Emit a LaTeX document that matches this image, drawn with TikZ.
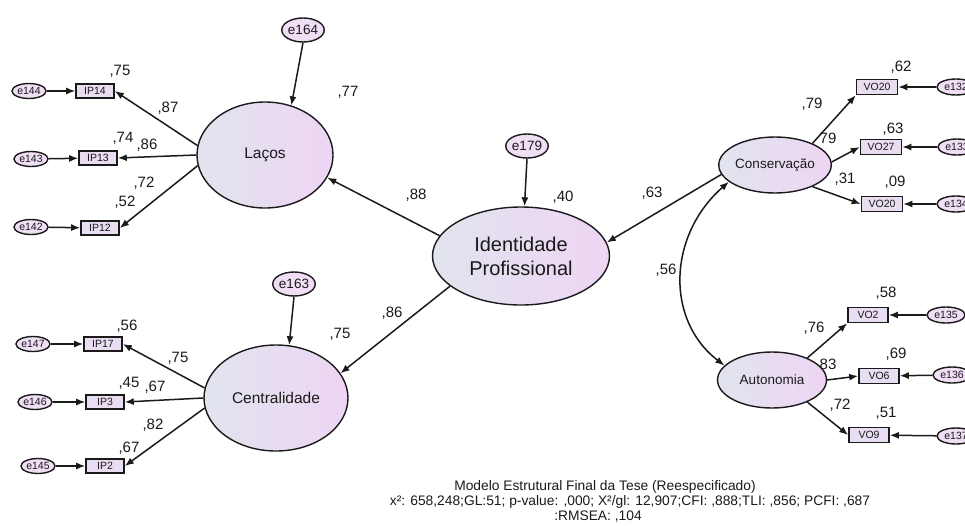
\documentclass[tikz,border=0pt]{standalone}
\usepackage{fontspec}
\setmainfont{Liberation Sans}
\usetikzlibrary{shapes.geometric,arrows.meta}
\definecolor{latL}{HTML}{E1E4EE}
\definecolor{latR}{HTML}{EED5F4}
\definecolor{boxF}{HTML}{E9DDF2}
\definecolor{errF}{HTML}{F0DEF5}
\definecolor{ink}{HTML}{1A1A1A}
\newcommand\fsz[1]{\fontsize{#1}{#1}\selectfont}
\begin{document}
\begin{tikzpicture}[x=1pt,y=-1pt,
  latent/.style={ellipse, draw=ink, line width=1.4pt, left color=latL, right color=latR, inner sep=0pt, text=ink},
  obs/.style={rectangle, draw=ink, line width=1.6pt, fill=boxF, minimum width=38pt, minimum height=14pt, inner sep=0pt, font=\fsz{10.5}, text=ink},
  err/.style={ellipse, draw=ink, line width=1.4pt, fill=errF, minimum width=34pt, minimum height=15pt, inner sep=0pt, font=\fsz{10.5}, text=ink},
  dist/.style={ellipse, draw=ink, line width=1.4pt, fill=errF, minimum width=39pt, minimum height=24pt, inner sep=0pt, font=\fsz{13.5}, text=ink},
  coef/.style={inner sep=0pt, font=\fsz{15}, text=ink},
  arr/.style={-{Latex[length=9pt,width=7pt]}, line width=1.5pt, draw=ink},
  darr/.style={{Latex[length=9pt,width=7pt]}-{Latex[length=9pt,width=7pt]}, line width=1.5pt, draw=ink},
  captext/.style={inner sep=0pt, font=\fsz{13.8}, text=ink}
]
\useasboundingbox (0,0) rectangle (965,525);
\clip (0,0) rectangle (965,525);

% ---------- second-order factor ----------
\node[latent, minimum width=177pt, minimum height=98pt, align=center,
      font=\fontsize{20}{24}\selectfont] (Ident) at (521,256) {Identidade\\Profissional};
\node[dist] (e179) at (527,146) {e179};

% ---------- Laços ----------
\node[latent, minimum width=136pt, minimum height=106pt, font=\fsz{15.5}] (Lacos) at (265,155) {Laços};
\node[dist] (e164) at (303,30) {e164};
\node[obs] (IP14) at (95,91) {IP14};
\node[obs] (IP13) at (98,158) {IP13};
\node[obs] (IP12) at (100,228) {IP12};
\node[err] (e144) at (29,91) {e144};
\node[err] (e143) at (31,159) {e143};
\node[err] (e142) at (31,227) {e142};

% ---------- Centralidade ----------
\node[latent, minimum width=144pt, minimum height=106pt, font=\fsz{15.5}] (Cent) at (276,398) {Centralidade};
\node[dist] (e163) at (294,284) {e163};
\node[obs] (IP17) at (103,344) {IP17};
\node[obs] (IP3) at (105,402) {IP3};
\node[obs] (IP2) at (105,466) {IP2};
\node[err] (e147) at (33,344) {e147};
\node[err] (e146) at (35,402) {e146};
\node[err] (e145) at (38,466) {e145};

% ---------- Conservação ----------
\node[latent, minimum width=106pt, minimum height=56pt, font=\fsz{13.5}] (Cons) at (775,165) {Conservação};
\node[obs, minimum width=41pt, minimum height=15pt] (VOa) at (877,87) {VO20};
\node[obs, minimum width=41pt, minimum height=15pt] (VOb) at (881,147) {VO27};
\node[obs, minimum width=41pt, minimum height=15pt] (VOc) at (882,204) {VO20};
\node[err, minimum width=38pt, minimum height=16pt] (e132) at (956,87) {e132};
\node[err, minimum width=38pt, minimum height=16pt] (e133) at (957,147) {e133};
\node[err, minimum width=38pt, minimum height=16pt] (e134) at (956,204) {e134};

% ---------- Autonomia ----------
\node[latent, minimum width=109pt, minimum height=56pt, font=\fsz{13.5}] (Auto) at (772,380) {Autonomia};
\node[obs, minimum width=40pt, minimum height=15pt] (VOd) at (868,315) {VO2};
\node[obs, minimum width=40pt, minimum height=15pt] (VOe) at (879,376) {VO6};
\node[obs, minimum width=40pt, minimum height=15pt] (VOf) at (869,435) {VO9};
\node[err, minimum width=38pt, minimum height=16pt] (e135) at (946,315) {e135};
\node[err, minimum width=38pt, minimum height=16pt] (e136) at (952,375) {e136};
\node[err, minimum width=38pt, minimum height=16pt] (e137) at (956,436) {e137};

% ---------- structural paths ----------
\draw[arr] (e179.south) -- (Ident.86);
\draw[arr] (Ident.166) -- (Lacos.-20);
\draw[arr] (Ident.203) -- (Cent.21);
\draw[arr] (Cons.190) -- (Ident.9);
\draw[darr] (Cons.200) .. controls (668,235) and (665,320) .. (Auto.163);

% ---------- measurement paths ----------
\draw[arr] (e164.south) -- (Lacos.62);
\draw[arr] (Lacos.172) -- (IP14.east);
\draw[arr] (Lacos.180) -- (IP13.east);
\draw[arr] (Lacos.189) -- (IP12.east);
\draw[arr] (e144) -- (IP14);
\draw[arr] (e143) -- (IP13);
\draw[arr] (e142) -- (IP12);

\draw[arr] (e163.south) -- (Cent.76);
\draw[arr] (Cent.172) -- (IP17.east);
\draw[arr] (Cent.180) -- (IP3.east);
\draw[arr] (Cent.188) -- (IP2.east);
\draw[arr] (e147) -- (IP17);
\draw[arr] (e146) -- (IP3);
\draw[arr] (e145) -- (IP2);

\draw[arr] (Cons.30) -- (VOa.south west);
\draw[arr] (Cons.3) -- (VOb.west);
\draw[arr] (Cons.-30) -- (VOc.west);
\draw[arr] (e132) -- (VOa);
\draw[arr] (e133) -- (VOb);
\draw[arr] (e134) -- (VOc);

\draw[arr] (Auto.32) -- (VOd.south west);
\draw[arr] (Auto.0) -- (VOe.west);
\draw[arr] (Auto.-32) -- (VOf.west);
\draw[arr] (e135) -- (VOd);
\draw[arr] (e136) -- (VOe);
\draw[arr] (e137) -- (VOf);

% ---------- coefficients ----------
\node[coef] (cLac) at (348,92) {,77};
\node[coef] (c1) at (120,71) {,75};
\node[coef] (c2) at (168,108) {,87};
\node[coef] (c3) at (123,138) {,74};
\node[coef] (c4) at (147,145) {,86};
\node[coef] (c5) at (144,183) {,72};
\node[coef] (c6) at (125,202) {,52};

\node[coef] (cCen) at (340,334) {,75};
\node[coef] (c7) at (127,326) {,56};
\node[coef] (c8) at (178,358) {,75};
\node[coef] (c9) at (129,383) {,45};
\node[coef] (c10) at (155,387) {,67};
\node[coef] (c11) at (153,425) {,82};
\node[coef] (c12) at (129,448) {,67};

\node[coef] (c13) at (416,195) {,88};
\node[coef] (c14) at (563,197) {,40};
\node[coef] (c15) at (652,193) {,63};
\node[coef] (c16) at (666,270) {,56};
\node[coef] (c17) at (392,313) {,86};

\node[coef] (c18) at (901,67) {,62};
\node[coef] (c19) at (812,104) {,79};
\node[coef] (c20) at (828,138) {79};
\node[coef] (c21) at (893,129) {,63};
\node[coef] (c22) at (845,179) {,31};
\node[coef] (c23) at (895,182) {,09};

\node[coef] (c24) at (886,293) {,58};
\node[coef] (c25) at (814,328) {,76};
\node[coef] (c26) at (828,364) {83};
\node[coef] (c27) at (896,354) {,69};
\node[coef] (c28) at (840,405) {,72};
\node[coef] (c29) at (886,413) {,51};

% ---------- caption ----------
\node[captext] (t1) at (605,487) {Modelo Estrutural Final da Tese (Reespecificado)};
\node[captext] (t2) at (630,502) {x²: 658,248;GL:51; p-value: ,000; X²/gl: 12,907;CFI: ,888;TLI: ,856; PCFI: ,687};
\node[captext] (t3) at (598,517) {:RMSEA: ,104};
\end{tikzpicture}
\end{document}
